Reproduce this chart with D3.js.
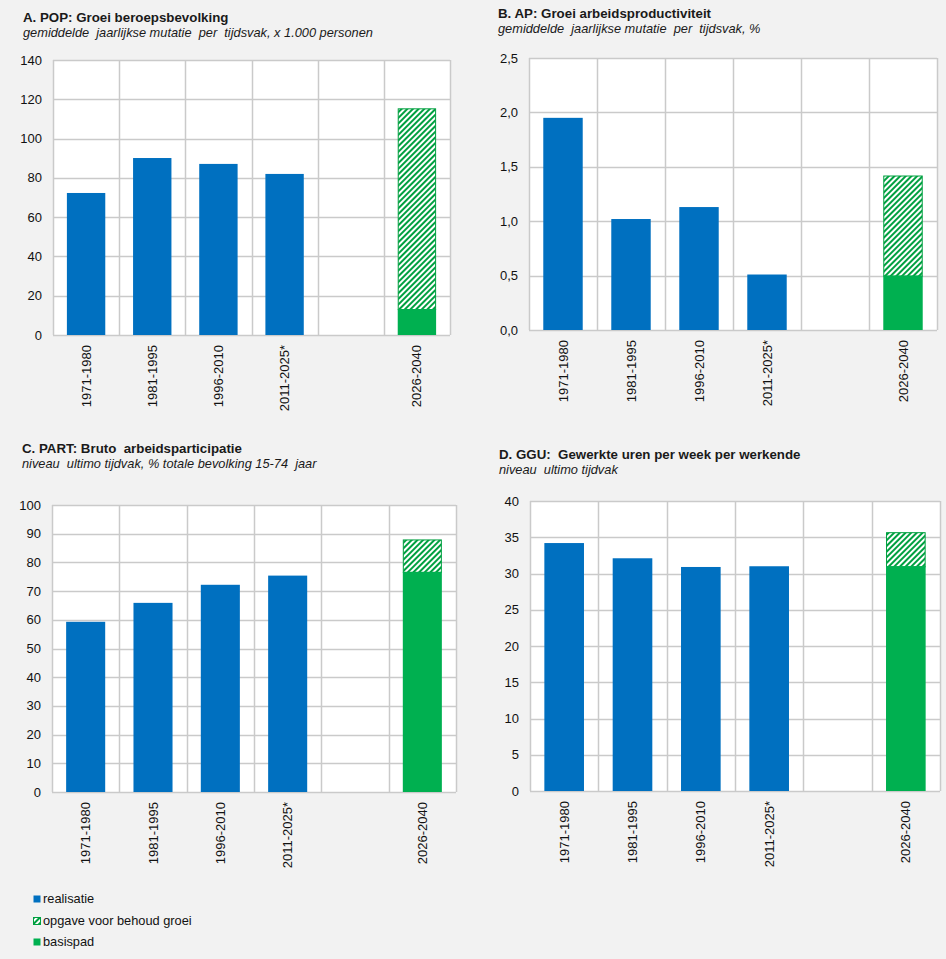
<!DOCTYPE html>
<html>
<head>
<meta charset="utf-8">
<script src="https://cdn.jsdelivr.net/npm/d3@7"></script>
<style>
  html, body { margin: 0; padding: 0; background: #f2f2f2; }
  svg { display: block; font-family: Arial, "Liberation Sans", sans-serif; }
</style>
</head>
<body>
<svg id="chart" width="946" height="959"></svg>
<script>
// categories (the empty slot is the gap before the last period)
const periods = ['1971-1980', '1981-1995', '1996-2010', '2011-2025*', '', '2026-2040'];

// A. POP
const popReal = [72.3, 90.1, 87.1, 82.0, null, null];
const popBasis = [null, null, null, null, null, 13.2];
const popTotal = [null, null, null, null, null, 115.4];
const popTicks = [0, 20, 40, 60, 80, 100, 120, 140];

// B. AP
const apReal = [1.95, 1.02, 1.13, 0.51, null, null];
const apBasis = [null, null, null, null, null, 0.5];
const apTotal = [null, null, null, null, null, 1.42];
const apTicks = [0, 0.5, 1.0, 1.5, 2.0, 2.5];

// C. PART
const partReal = [59.3, 65.9, 72.2, 75.4, null, null];
const partBasis = [null, null, null, null, null, 76.7];
const partTotal = [null, null, null, null, null, 88.0];
const partTicks = [0, 10, 20, 30, 40, 50, 60, 70, 80, 90, 100];

// D. GGU
const gguReal = [34.2, 32.1, 30.9, 31.0, null, null];
const gguBasis = [null, null, null, null, null, 31.0];
const gguTotal = [null, null, null, null, null, 35.7];
const gguTicks = [0, 5, 10, 15, 20, 25, 30, 35, 40];

const legendLabels = ['realisatie', 'opgave voor behoud groei', 'basispad'];

const blue = '#0070c0';
const green = '#00b050';
const hatchGreen = '#00a040';
const gridColor = '#cacaca';

const panels = [
    {title: 'A. POP: Groei beroepsbevolking', sub: 'gemiddelde  jaarlijkse mutatie  per  tijdsvak, x 1.000 personen',
     tx: 23, ty: 22, x0: 53, x1: 450, y0: 60, y1: 335,
     real: popReal, basis: popBasis, total: popTotal, ticks: popTicks, fmt: d => d},
    {title: 'B. AP: Groei arbeidsproductiviteit', sub: 'gemiddelde  jaarlijkse mutatie  per  tijdsvak, %',
     tx: 498, ty: 18, x0: 529, x1: 937, y0: 58, y1: 330,
     real: apReal, basis: apBasis, total: apTotal, ticks: apTicks, fmt: d => d.toFixed(1).replace('.', ',')},
    {title: 'C. PART: Bruto  arbeidsparticipatie', sub: 'niveau  ultimo tijdvak, % totale bevolking 15-74  jaar',
     tx: 22, ty: 453, x0: 52, x1: 456, y0: 505, y1: 792,
     real: partReal, basis: partBasis, total: partTotal, ticks: partTicks, fmt: d => d},
    {title: 'D. GGU:  Gewerkte uren per week per werkende', sub: 'niveau  ultimo tijdvak',
     tx: 499, ty: 459, x0: 530, x1: 940, y0: 501, y1: 791,
     real: gguReal, basis: gguBasis, total: gguTotal, ticks: gguTicks, fmt: d => d}
];

const svg = d3.select('#chart');

const defs = svg.append('defs');
const pat = defs.append('pattern')
    .attr('id', 'hatch')
    .attr('patternUnits', 'userSpaceOnUse')
    .attr('width', 4)
    .attr('height', 4)
    .attr('patternTransform', 'rotate(-45)');
pat.append('rect').attr('width', 4).attr('height', 4).attr('fill', '#fff');
pat.append('rect').attr('width', 4).attr('height', 2).attr('fill', hatchGreen);

panels.forEach(p => {
    const g = svg.append('g');

    g.append('text')
        .attr('x', p.tx).attr('y', p.ty)
        .style('font-size', '13.3px').style('font-weight', 'bold').style('fill', '#1a1a1a')
        .style('white-space', 'pre')
        .text(p.title);
    g.append('text')
        .attr('x', p.tx).attr('y', p.ty + 15)
        .style('font-size', '12.8px').style('font-style', 'italic').style('fill', '#1a1a1a')
        .style('white-space', 'pre')
        .text(p.sub);

    const x = d3.scaleBand().domain(d3.range(periods.length)).range([p.x0, p.x1]);
    const y = d3.scaleLinear().domain([0, d3.max(p.ticks)]).range([p.y1, p.y0]);
    const bw = x.bandwidth() * 0.58;

    g.append('rect')
        .attr('x', p.x0).attr('y', p.y0)
        .attr('width', p.x1 - p.x0).attr('height', p.y1 - p.y0)
        .attr('fill', '#fff');

    // horizontal grid
    g.selectAll('line.hg').data(p.ticks).enter().append('line')
        .attr('x1', p.x0).attr('x2', p.x1)
        .attr('y1', d => Math.round(y(d)) + 0.5).attr('y2', d => Math.round(y(d)) + 0.5)
        .attr('stroke', gridColor).attr('stroke-width', 1.5);

    // vertical grid at band edges
    g.selectAll('line.vg').data(d3.range(periods.length + 1)).enter().append('line')
        .attr('x1', i => Math.round(p.x0 + i * x.step()) + 0.5)
        .attr('x2', i => Math.round(p.x0 + i * x.step()) + 0.5)
        .attr('y1', p.y0).attr('y2', p.y1)
        .attr('stroke', gridColor).attr('stroke-width', 1.5);

    // realisatie
    g.selectAll('rect.real').data(p.real.map((v, i) => ({v, i})).filter(d => d.v != null)).enter().append('rect')
        .attr('x', d => x(d.i) + (x.bandwidth() - bw) / 2)
        .attr('width', bw)
        .attr('y', d => y(d.v))
        .attr('height', d => y(0) - y(d.v))
        .attr('fill', blue);

    // opgave voor behoud groei (hatched part from basis to total)
    g.selectAll('rect.gap').data(p.total.map((v, i) => ({v, b: p.basis[i], i})).filter(d => d.v != null)).enter().append('rect')
        .attr('x', d => x(d.i) + (x.bandwidth() - bw) / 2 + 0.5)
        .attr('width', bw - 1)
        .attr('y', d => y(d.v) + 0.5)
        .attr('height', d => y(d.b) - y(d.v))
        .attr('fill', 'url(#hatch)')
        .attr('stroke', hatchGreen).attr('stroke-width', 1);

    // basispad
    g.selectAll('rect.basis').data(p.basis.map((v, i) => ({v, i})).filter(d => d.v != null)).enter().append('rect')
        .attr('x', d => x(d.i) + (x.bandwidth() - bw) / 2)
        .attr('width', bw)
        .attr('y', d => y(d.v))
        .attr('height', d => y(0) - y(d.v))
        .attr('fill', green);

    // y tick labels
    g.selectAll('text.yt').data(p.ticks).enter().append('text')
        .attr('x', p.x0 - 11).attr('y', d => y(d))
        .attr('dy', '0.35em')
        .attr('text-anchor', 'end')
        .style('font-size', '13px').style('fill', '#111')
        .text(p.fmt);

    // x labels rotated
    g.selectAll('text.xt').data(periods.map((c, i) => ({c, i})).filter(d => d.c)).enter().append('text')
        .attr('transform', d => `translate(${x(d.i) + x.bandwidth() / 2},${p.y1 + 10}) rotate(-90)`)
        .attr('dy', '0.35em')
        .attr('text-anchor', 'end')
        .style('font-size', '13px').style('fill', '#111')
        .text(d => d.c);
});

// legend
const legend = svg.append('g');
const legendY = [899, 921, 942];
const legendFill = [blue, 'url(#hatch)', green];
legendLabels.forEach((lbl, i) => {
    legend.append('rect')
        .attr('x', 33.5).attr('y', legendY[i] - 3.5)
        .attr('width', 7).attr('height', 7)
        .attr('fill', legendFill[i])
        .attr('stroke', i === 1 ? hatchGreen : 'none');
    legend.append('text')
        .attr('x', 43).attr('y', legendY[i])
        .attr('dy', '0.35em')
        .style('font-size', '12.8px').style('fill', '#111')
        .text(lbl);
});
</script>
</body>
</html>
